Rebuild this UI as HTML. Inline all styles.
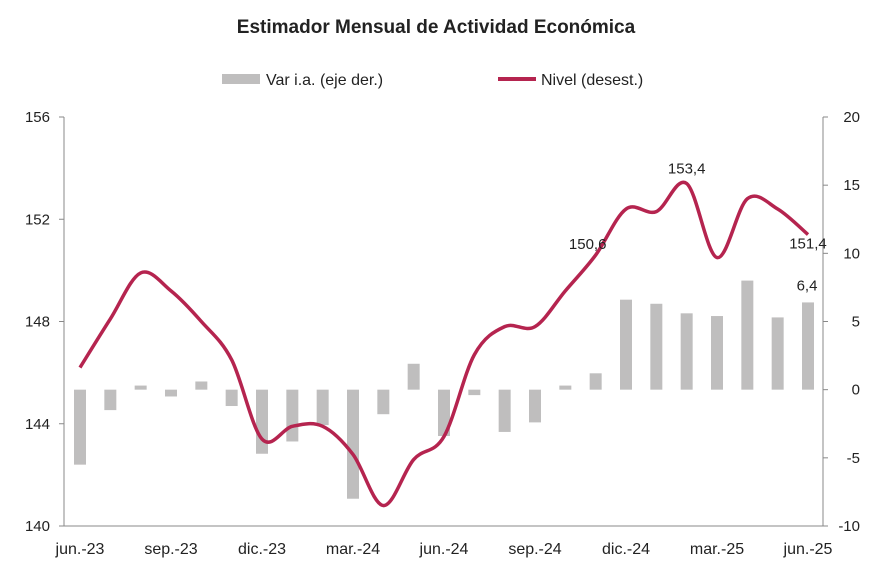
<!DOCTYPE html>
<html><head><meta charset="utf-8">
<style>
body{margin:0;background:#fff;font-family:"Liberation Sans",sans-serif;}
svg text{font-family:"Liberation Sans",sans-serif;fill:#222;}
</style></head>
<body>
<svg width="883" height="577">
<text x="436" y="33" text-anchor="middle" font-size="19" font-weight="bold">Estimador Mensual de Actividad Económica</text>
<g>
<rect x="222" y="74" width="38" height="10" fill="#bfbebe"/>
<text x="266" y="85" font-size="16">Var i.a. (eje der.)</text>
<line x1="498" y1="79" x2="536" y2="79" stroke="#b5244f" stroke-width="4"/>
<text x="541" y="85" font-size="16">Nivel (desest.)</text>
</g>
<g id="plot"></g>
</svg>
<script>
const months=["jun.-23","jul.-23","ago.-23","sep.-23","oct.-23","nov.-23","dic.-23","ene.-24","feb.-24","mar.-24","abr.-24","may.-24","jun.-24","jul.-24","ago.-24","sep.-24","oct.-24","nov.-24","dic.-24","ene.-25","feb.-25","mar.-25","abr.-25","may.-25","jun.-25"];
const varIA=[-5.5,-1.5,0.3,-0.5,0.6,-1.2,-4.7,-3.8,-2.6,-8.0,-1.8,1.9,-3.4,-0.4,-3.1,-2.4,0.3,1.2,6.6,6.3,5.6,5.4,8.0,5.3,6.4];
const nivel=[146.2,148.1,149.9,149.2,148.0,146.5,143.4,143.9,143.9,142.8,140.8,142.6,143.5,146.7,147.8,147.8,149.2,150.6,152.4,152.3,153.4,150.5,152.8,152.4,151.4];
const leftTicks=[140,144,148,152,156];
const rightTicks=[-10,-5,0,5,10,15,20];
const xLabelIdx=[0,3,6,9,12,15,18,21,24];
const lineLabels=[[17,"150,6"],[20,"153,4"],[24,"151,4"]];
const labelOffsets=[[-8,0],[0,-4],[0,20]];

const NS="http://www.w3.org/2000/svg";
const plotG=document.getElementById('plot');
const plotTop=117,bot=526,L=64,R=823;
const x=i=>80+i*(808-80)/24;
const yL=v=>bot-(v-140)/16*(bot-plotTop);
const yR=v=>bot-(v+10)/30*(bot-plotTop);
function mk(t,a,txt){const e=document.createElementNS(NS,t);for(const k in a)e.setAttribute(k,a[k]);if(txt!=null)e.textContent=txt;plotG.appendChild(e);return e;}

let e=mk('line',{x1:L,y1:plotTop,x2:L,y2:bot,stroke:'#888'});

e=mk('line',{x1:R,y1:plotTop,x2:R,y2:bot,stroke:'#888'});

e=mk('line',{x1:L,y1:bot,x2:R,y2:bot,stroke:'#888'});

leftTicks.forEach(v=>{
 mk('line',{x1:L-5,y1:yL(v),x2:L,y2:yL(v),stroke:'#888'});
 e=mk('text',{x:L-14,y:yL(v)+5,'text-anchor':'end','font-size':15},v);
 
});
rightTicks.forEach(v=>{
 mk('line',{x1:R,y1:yR(v),x2:R+5,y2:yR(v),stroke:'#888'});
 e=mk('text',{x:R+37,y:yR(v)+5,'text-anchor':'end','font-size':15},v);
 
});
xLabelIdx.forEach(i=>{
 e=mk('text',{x:x(i),y:554,'text-anchor':'middle','font-size':16},months[i]);
 
});
varIA.forEach((v,i)=>{
 const y0=yR(0),y1=yR(v);
 e=mk('rect',{x:x(i)-6,y:Math.min(y0,y1),width:12,height:Math.abs(y1-y0),fill:'#bfbebe'});
 
});
const pts=nivel.map((v,i)=>[x(i),yL(v)]);
let d='M'+pts[0][0]+','+pts[0][1];
for(let i=0;i<pts.length-1;i++){
 const p0=pts[Math.max(0,i-1)],p1=pts[i],p2=pts[i+1],p3=pts[Math.min(pts.length-1,i+2)];
 const c1=[p1[0]+(p2[0]-p0[0])/6,p1[1]+(p2[1]-p0[1])/6],c2=[p2[0]-(p3[0]-p1[0])/6,p2[1]-(p3[1]-p1[1])/6];
 d+=` C${c1[0]},${c1[1]} ${c2[0]},${c2[1]} ${p2[0]},${p2[1]}`;
}
e=mk('path',{d:d,fill:'none',stroke:'#b5244f','stroke-width':3.5});

lineLabels.forEach(([i,t],k)=>{
 const o=labelOffsets[k];
 e=mk('text',{x:x(i)+o[0],y:yL(nivel[i])-6+o[1],'text-anchor':'middle','font-size':15},t);
 
});
const li=varIA.length-1;
e=mk('text',{x:x(li)-1,y:yR(varIA[li])-12,'text-anchor':'middle','font-size':15},String(varIA[li]).replace('.',','));

</script>
</body></html>
